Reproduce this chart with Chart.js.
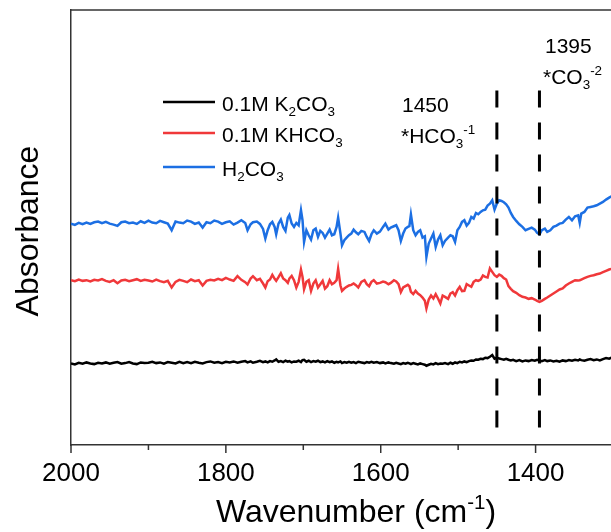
<!DOCTYPE html>
<html>
<head>
<meta charset="utf-8">
<script src="https://cdn.jsdelivr.net/npm/chart.js@4.4.1/dist/chart.umd.min.js"></script>
<style>
  html, body { margin: 0; padding: 0; background: #fff; overflow: hidden; }
  canvas { display: block; }
</style>
</head>
<body>
<canvas id="c" width="611" height="532"></canvas>
<script>
// FTIR difference spectra, 2000-1300 cm-1 (absorbance, offset, arbitrary units)
const wavenumber = [
  2000,1995,1990,1985,1980,1975,1970,1965,1960,1955,
  1950,1945,1940,1935,1930,1925,1920,1915,1910,1905,
  1900,1895,1890,1885,1880,1875,1870,1865,1860,1855,
  1850,1845,1840,1835,1830,1825,1820,1815,1810,1805,
  1800,1795,1790,1785,1780,1775,1772,1768,1765,1760,
  1756,1752,1749,1746,1743,1740,1737,1735,1732,1729,
  1726,1723,1720,1718,1715,1712,1709,1706,1703,1701,
  1699,1696,1693,1690,1687,1684,1681,1678,1675,1672,
  1669,1666,1663,1660,1657,1655,1652,1650,1647,1644,
  1641,1638,1635,1632,1629,1625,1621,1618,1615,1612,
  1609,1605,1601,1597,1594,1590,1587,1583,1580,1577,
  1574,1571,1568,1565,1563,1561,1558,1555,1552,1549,
  1546,1543,1541,1538,1535,1532,1529,1526,1523,1520,
  1517,1513,1510,1507,1504,1501,1498,1495,1492,1489,
  1486,1483,1480,1477,1474,1471,1468,1465,1462,1459,
  1456,1453,1450,1447,1444,1441,1438,1435,1432,1429,
  1425,1421,1417,1413,1409,1405,1401,1398,1395,1392,
  1388,1385,1381,1377,1373,1369,1365,1361,1357,1353,
  1349,1345,1343,1341,1337,1333,1329,1325,1321,1317,
  1313,1309,1305,1302
];

const absK2CO3 = [
  .245,.242,.247,.244,.248,.245,.243,.247,.245,.248,
  .244,.247,.249,.244,.246,.249,.245,.243,.248,.246,
  .247,.250,.246,.248,.244,.249,.247,.245,.250,.246,
  .249,.246,.250,.247,.245,.249,.251,.247,.249,.246,
  .250,.248,.251,.247,.250,.252,.248,.251,.247,.250,
  .253,.249,.251,.248,.252,.250,.254,.257,.250,.252,
  .249,.253,.250,.252,.248,.251,.250,.253,.249,.255,
  .256,.250,.253,.249,.252,.250,.253,.249,.251,.248,
  .252,.249,.251,.247,.250,.248,.251,.246,.249,.247,
  .250,.247,.249,.246,.250,.248,.246,.249,.247,.250,
  .247,.249,.246,.248,.245,.248,.246,.244,.247,.245,
  .243,.246,.244,.247,.245,.243,.246,.244,.242,.245,
  .243,.241,.238,.241,.244,.242,.246,.243,.245,.244,
  .246,.243,.247,.244,.248,.246,.250,.248,.251,.249,
  .252,.254,.253,.257,.256,.259,.258,.262,.261,.265,
  .270,.259,.262,.260,.258,.256,.259,.256,.254,.256,
  .252,.255,.251,.254,.252,.255,.253,.256,.254,.252,
  .255,.252,.254,.251,.253,.250,.254,.252,.255,.253,
  .256,.254,.257,.255,.253,.256,.258,.255,.257,.254,
  .258,.261,.259,.262
];

const absKHCO3 = [
  .495,.492,.497,.493,.495,.491,.496,.494,.498,.493,
  .490,.495,.486,.494,.496,.492,.495,.498,.493,.496,
  .494,.491,.497,.492,.489,.493,.473,.490,.496,.493,
  .489,.497,.492,.495,.479,.493,.496,.494,.499,.495,
  .502,.497,.493,.507,.496,.489,.482,.500,.507,.495,
  .499,.485,.473,.492,.497,.511,.499,.493,.504,.516,
  .500,.495,.487,.500,.508,.495,.473,.490,.527,.505,
  .468,.490,.495,.463,.485,.495,.473,.483,.493,.470,
  .477,.495,.483,.487,.495,.529,.479,.463,.470,.475,
  .479,.481,.485,.480,.473,.490,.495,.483,.477,.490,
  .495,.485,.487,.491,.489,.483,.487,.495,.491,.483,
  .459,.473,.477,.481,.477,.460,.453,.463,.455,.450,
  .443,.433,.410,.437,.449,.440,.453,.440,.425,.449,
  .445,.439,.455,.459,.449,.465,.475,.462,.463,.483,
  .479,.475,.490,.495,.493,.497,.509,.505,.503,.530,
  .520,.510,.505,.512,.508,.501,.497,.477,.469,.462,
  .457,.450,.445,.443,.439,.441,.437,.433,.430,.433,
  .439,.443,.449,.455,.461,.467,.470,.479,.485,.490,
  .495,.494,.495,.497,.501,.505,.508,.510,.513,.515,
  .519,.523,.527,.529
];

const absH2CO3 = [
  .665,.661,.667,.663,.668,.664,.669,.671,.666,.670,
  .665,.662,.658,.669,.671,.666,.668,.664,.672,.667,
  .674,.668,.666,.673,.669,.665,.645,.671,.668,.666,
  .674,.671,.664,.668,.653,.669,.666,.674,.671,.664,
  .669,.672,.662,.668,.675,.667,.645,.663,.669,.671,
  .664,.649,.620,.645,.663,.670,.655,.633,.665,.677,
  .655,.643,.683,.691,.665,.655,.667,.660,.705,.675,
  .610,.645,.630,.617,.645,.650,.625,.643,.637,.623,
  .635,.647,.630,.633,.655,.683,.635,.600,.615,.623,
  .630,.635,.647,.639,.633,.643,.640,.625,.613,.633,
  .645,.635,.641,.655,.665,.647,.653,.657,.660,.645,
  .613,.635,.650,.655,.657,.692,.645,.630,.640,.645,
  .623,.627,.565,.605,.620,.635,.595,.617,.630,.600,
  .613,.623,.630,.627,.610,.645,.655,.670,.675,.659,
  .667,.685,.680,.697,.693,.700,.705,.707,.719,.725,
  .735,.707,.725,.735,.733,.729,.723,.713,.697,.685,
  .673,.663,.655,.645,.649,.653,.647,.637,.633,.645,
  .650,.640,.645,.655,.659,.665,.667,.677,.685,.675,
  .687,.690,.667,.695,.700,.713,.715,.717,.720,.725,
  .730,.737,.743,.747
];

const seriesNames = ['0.1M K_{2}CO_{3}', '0.1M KHCO_{3}', 'H_{2}CO_{3}'];

// x axis: labelled ticks and the unlabelled ticks between them
const xMajorTicks = [2000, 1800, 1600, 1400];
const xMinorTicks = [1900, 1700, 1500, 1300];

// marked bands: wavenumber, number label, species label
const bandWavenumbers = [1450, 1395];
const bandNumbers = ['1450', '1395'];
const bandSpecies = ['*HCO_{3}^{-1}', '*CO_{3}^{-2}'];
const bandRange = [1.065, 0.042];

const FAMILY = "'Liberation Sans', Arial, Helvetica, sans-serif";
Chart.defaults.font.family = FAMILY;
Chart.defaults.color = '#000';

const toPoints = ys => wavenumber.map((w, i) => ({ x: w, y: ys[i] }));

// split "K_{2}CO_{3}^{-1}" into normal / subscript / superscript runs
function richRuns(str) {
  const runs = [];
  let buf = '', i = 0;
  while (i < str.length) {
    const c = str[i];
    if ((c === '_' || c === '^') && str[i + 1] === '{') {
      if (buf) { runs.push({ t: buf, k: 0 }); buf = ''; }
      const end = str.indexOf('}', i);
      runs.push({ t: str.slice(i + 2, end), k: c === '_' ? 1 : -1 });
      i = end + 1;
    } else { buf += c; i++; }
  }
  if (buf) runs.push({ t: buf, k: 0 });
  return runs;
}

function drawRich(ctx, str, x, y, size, align) {
  const runs = richRuns(str);
  const small = size * 0.64;
  let w = 0;
  runs.forEach(r => {
    ctx.font = (r.k ? small : size) + 'px ' + FAMILY;
    r.w = ctx.measureText(r.t).width;
    w += r.w;
  });
  let cx = align === 'center' ? x - w / 2 : x;
  ctx.textAlign = 'left';
  ctx.textBaseline = 'alphabetic';
  runs.forEach(r => {
    ctx.font = (r.k ? small : size) + 'px ' + FAMILY;
    const dy = r.k === 1 ? size * 0.24 : (r.k === -1 ? -size * 0.42 : 0);
    ctx.fillText(r.t, cx, y + dy);
    cx += r.w;
  });
}

const decorations = {
  id: 'decorations',
  afterDraw(chart) {
    const { ctx, chartArea: a, scales: { x } } = chart;
    ctx.save();
    ctx.fillStyle = '#000';

    // top frame line
    ctx.strokeStyle = '#333';
    ctx.lineWidth = 1.5;
    ctx.beginPath();
    ctx.moveTo(a.left - 0.75, a.top);
    ctx.lineTo(a.right + 2, a.top);
    ctx.stroke();

    // x tick marks (outward)
    const tick = (v, len) => {
      const px = x.getPixelForValue(v);
      ctx.beginPath();
      ctx.moveTo(px, a.bottom);
      ctx.lineTo(px, a.bottom + len);
      ctx.stroke();
    };
    xMajorTicks.forEach(v => tick(v, 8));
    xMinorTicks.forEach(v => tick(v, 5));

    // legend
    const legendY = [102, 133, 167];
    chart.data.datasets.slice(0, 3).forEach((ds, i) => {
      ctx.strokeStyle = ds.borderColor;
      ctx.lineWidth = 2.5;
      ctx.beginPath();
      ctx.moveTo(163, legendY[i]);
      ctx.lineTo(215, legendY[i]);
      ctx.stroke();
      drawRich(ctx, seriesNames[i], 222, legendY[i] + 9, 21, 'left');
    });

    // band labels
    const numberY = [112, 53];
    const speciesX = [401, 543];
    const numberX = [402, 545];
    bandWavenumbers.forEach((w, i) => {
      drawRich(ctx, bandNumbers[i], numberX[i], numberY[i], 21, 'left');
      drawRich(ctx, bandSpecies[i], speciesX[i], numberY[i] + 31, 21, 'left');
    });

    // axis titles
    drawRich(ctx, 'Wavenumber (cm^{-1})', 356, 522, 32, 'center');
    ctx.save();
    ctx.translate(38, 231);
    ctx.rotate(-Math.PI / 2);
    drawRich(ctx, 'Absorbance', 0, 0, 32, 'center');
    ctx.restore();

    ctx.restore();
  }
};

const spectrum = (ys, color) => ({
  data: toPoints(ys),
  borderColor: color,
  backgroundColor: color,
  borderWidth: 2.5,
  pointRadius: 0,
  tension: 0,
  order: 1
});

const bandLine = w => ({
  data: [{ x: w, y: bandRange[0] }, { x: w, y: bandRange[1] }],
  borderColor: '#000',
  borderWidth: 3,
  borderDash: [17, 15],
  borderCapStyle: 'butt',
  pointRadius: 0,
  order: 0
});

new Chart(document.getElementById('c'), {
  type: 'line',
  data: {
    datasets: [
      spectrum(absK2CO3, '#000000'),
      spectrum(absKHCO3, '#f0383a'),
      spectrum(absH2CO3, '#1c6fe3'),
      ...bandWavenumbers.map(bandLine)
    ]
  },
  options: {
    responsive: false,
    devicePixelRatio: 1,
    animation: false,
    events: [],
    layout: { padding: { top: 10, right: 0, left: 0, bottom: 0 } },
    plugins: { legend: { display: false }, tooltip: { enabled: false } },
    scales: {
      x: {
        type: 'linear',
        reverse: true,
        min: 1302.6,
        max: 2000,
        afterFit: s => { s.height = 87; },
        afterBuildTicks: s => { s.ticks = xMajorTicks.map(v => ({ value: v })); },
        grid: { display: false, drawTicks: false },
        border: { display: true, color: '#333', width: 1.5 },
        ticks: {
          padding: 13,
          font: { size: 26 },
          color: '#000',
          maxRotation: 0,
          autoSkip: false,
          callback: v => String(v)
        }
      },
      y: {
        type: 'linear',
        min: 0,
        max: 1.3065,
        afterFit: s => { s.width = 71; },
        grid: { display: false, drawTicks: false },
        border: { display: true, color: '#333', width: 1.5 },
        ticks: { display: false }
      }
    }
  },
  plugins: [decorations]
});
</script>
</body>
</html>
